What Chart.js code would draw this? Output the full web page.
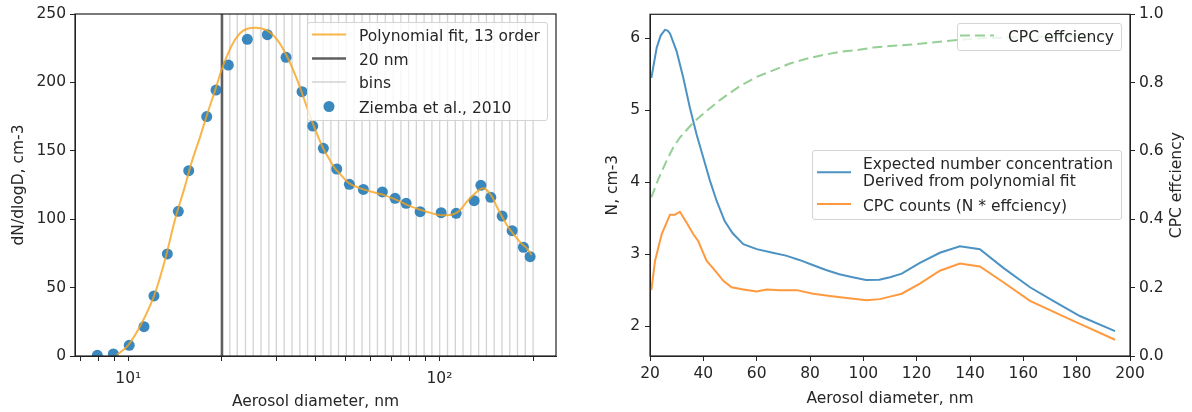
<!DOCTYPE html>
<html>
<head>
<meta charset="utf-8">
<script src="https://cdn.jsdelivr.net/npm/chart.js@4.4.0/dist/chart.umd.min.js"></script>
<style>
body { margin: 0; background: #fff; font-family: "DejaVu Sans", sans-serif; }
.wrap { position: relative; width: 1192px; height: 412px; overflow: hidden; }
canvas { position: absolute; top: 0; }
#left { left: 0; }
#right { left: 596px; }
.legend { position: absolute; background: rgba(255,255,255,0.8); border: 1px solid #d4d4d4; border-radius: 3px; box-sizing: border-box; }
.legend svg { position: absolute; left: -1px; top: -1px; }
.legend .lt { position: absolute; white-space: nowrap; font-size: 15.5px; line-height: 18px; color: #262626; }
</style>
</head>
<body>
<div class="wrap">
	<canvas id="left" width="596" height="412"></canvas>
	<canvas id="right" width="596" height="412"></canvas>
</div>
<script>
"use strict";

// ---- left panel: size distribution ----
const ziembaD = [7.95, 8.95, 10.07, 11.23, 12.09, 13.35, 14.48, 15.64, 17.87, 19.14, 20.97, 24.13, 27.99, 32.14, 36.18, 39.16, 42.36, 46.77, 51.35, 56.95, 65.55, 72.03, 78.16, 86.7, 101.3, 113.2, 129.3, 135.9, 146.3, 159.1, 171.3, 186.2, 195.7];
const ziembaN = [0.5, 1.5, 7.8, 21.4, 43.9, 74.6, 105.8, 135.5, 175, 194.4, 212.7, 231.5, 234.9, 218.3, 193.2, 168.1, 151.8, 136.7, 125.5, 121.8, 119.9, 115.3, 111.6, 105.5, 104.8, 104.3, 113.5, 124.8, 116, 102.3, 91.6, 79.5, 72.6];

const fitD = [9.18, 10, 11.04, 12.18, 13.12, 14.12, 15.2, 16, 17, 18, 19, 20, 21, 22, 23, 24, 25.7, 27.9, 30, 32.3, 34.8, 37.5, 39.8, 42.4, 44.5, 46, 48, 50.4, 52, 57, 63, 66, 73, 80.5, 91, 101.8, 108, 113.7, 118, 122.5, 127, 132, 138, 143.8, 148, 153, 158, 164.7, 171, 177.4, 184, 191, 198];
const fitN = [0.7, 8, 23.9, 45.8, 70.2, 99.4, 123.8, 142, 160, 178, 194, 210, 222, 231, 236.5, 239, 240, 238, 231.7, 219.5, 202.5, 182, 166, 151.3, 143, 137.5, 133, 127.5, 125.5, 121.8, 119, 117.8, 114, 109.6, 105.5, 102.8, 103, 104.8, 108, 112.8, 116.5, 120.1, 122.6, 120.1, 116, 109.1, 103, 95.8, 90.5, 86, 82, 78.7, 73.8];

const cutD = 20;
const binEdges = [20.0, 21.2, 22.4, 23.8, 25.2, 26.7, 28.3, 29.9, 31.7, 33.6, 35.6, 37.7, 39.9, 42.3, 44.8, 47.4, 50.2, 53.2, 56.4, 59.7, 63.2, 67.0, 71.0, 75.2, 79.6, 84.3, 89.3, 94.6, 100.2, 106.2, 112.5, 119.1, 126.2, 133.7, 141.6, 150.0, 158.9, 168.3, 178.2, 188.8, 200.0];

const leftXTicks = [7, 8, 9, 10, 20, 30, 40, 50, 60, 70, 80, 90, 100, 200];
const leftXLabels = { 10: '10\u00b9', 100: '10\u00b2' };
const leftYTicks = [0, 50, 100, 150, 200, 250];

// ---- right panel: concentration and CPC efficiency ----
const expD = [20.5, 22.5, 24, 25.6, 26.6, 27.5, 30, 32.5, 35, 37.5, 40, 42.5, 45, 48, 51, 55, 60, 66, 71, 76, 81, 86, 91, 96, 101, 106, 110, 114.4, 121.2, 128.7, 136.2, 143.7, 152.5, 162.5, 171.2, 181.2, 194.4];
const expN = [5.45, 5.87, 6.04, 6.12, 6.11, 6.07, 5.82, 5.45, 5.03, 4.66, 4.34, 4.02, 3.74, 3.46, 3.29, 3.14, 3.07, 3.02, 2.98, 2.92, 2.85, 2.78, 2.72, 2.68, 2.64, 2.645, 2.68, 2.73, 2.88, 3.02, 3.11, 3.07, 2.81, 2.54, 2.35, 2.14, 1.93];

const cpcD = [20.5, 21.9, 24.4, 27.5, 29.4, 31.2, 33.7, 36.2, 38.1, 41.2, 44.4, 47.5, 50.6, 55, 60, 63.8, 68.7, 75, 81.2, 87.5, 93.8, 101.2, 106.2, 110, 114.4, 121.2, 128.7, 136.2, 143.7, 152.5, 162.5, 171.2, 181.2, 194.4];
const cpcN = [2.50, 2.91, 3.28, 3.55, 3.55, 3.59, 3.44, 3.28, 3.18, 2.91, 2.77, 2.63, 2.54, 2.51, 2.48, 2.51, 2.50, 2.50, 2.45, 2.42, 2.39, 2.36, 2.375, 2.41, 2.45, 2.59, 2.77, 2.87, 2.83, 2.61, 2.35, 2.20, 2.03, 1.81];

const effD = [20.5, 23.1, 26.2, 28.7, 31.2, 36.2, 41.2, 46.2, 53.7, 60, 66.2, 72.5, 78.7, 85, 91.2, 97.5, 103.7, 110, 118.7, 131.2, 143.7, 160, 180, 194.4];
const effV = [0.464, 0.517, 0.571, 0.610, 0.639, 0.683, 0.717, 0.749, 0.790, 0.817, 0.836, 0.856, 0.870, 0.881, 0.890, 0.895, 0.903, 0.907, 0.912, 0.922, 0.930, 0.933, 0.938, 0.940];

const rightXTicks = [20, 40, 60, 80, 100, 120, 140, 160, 180, 200];
const rightYTicks = [2, 3, 4, 5, 6];
const effTicks = [0, 0.2, 0.4, 0.6, 0.8, 1.0];

const C = {
	dot: 'rgba(31,119,180,0.88)',
	fit: 'rgba(246,162,28,0.8)',
	cut: '#5f5f5f',
	bins: '#d3d3d3',
	blue: 'rgba(31,119,180,0.8)',
	orange: 'rgba(255,127,14,0.8)',
	green: 'rgba(44,160,44,0.5)',
	text: '#262626',
	axis: '#222'
};

Chart.defaults.font.family = '"DejaVu Sans", sans-serif';
Chart.defaults.font.size = 15.5;
Chart.defaults.color = C.text;

const pts = (xs, ys) => xs.map((x, i) => ({ x: x, y: ys[i] }));

// matplotlib-like full box around the axes
const framePlugin = {
	id: 'frame',
	afterDraw(chart) {
		const { ctx, chartArea: a } = chart;
		ctx.save();
		ctx.strokeStyle = C.axis;
		ctx.lineWidth = 1.2;
		ctx.strokeRect(a.left, a.top, a.right - a.left, a.bottom - a.top);
		ctx.restore();
	}
};

// right-hand label reads bottom-to-top like matplotlib
const sideTitlePlugin = {
	id: 'sideTitle',
	afterDraw(chart, args, opts) {
		if (!opts.text) return;
		const { ctx, chartArea: a } = chart;
		ctx.save();
		ctx.translate(opts.x, (a.top + a.bottom) / 2);
		ctx.rotate(-Math.PI / 2);
		ctx.textAlign = 'center';
		ctx.textBaseline = 'middle';
		ctx.font = '15.5px "DejaVu Sans", sans-serif';
		ctx.fillStyle = C.text;
		ctx.fillText(opts.text, 0, 0);
		ctx.restore();
	}
};

function axisStyle(extra) {
	return Object.assign({
		grid: { drawOnChartArea: false, tickLength: 5, tickColor: C.axis, tickWidth: 1 },
		border: { color: C.axis, width: 1 }
	}, extra);
}

const setTicks = (arr) => (scale) => { scale.ticks = arr.map(v => ({ value: v })); };

new Chart(document.getElementById('left'), {
	type: 'scatter',
	data: {
		datasets: [
			{
				label: 'Polynomial fit, 13 order',
				type: 'line',
				showLine: true,
				data: pts(fitD, fitN),
				borderColor: C.fit,
				borderWidth: 2,
				pointRadius: 0,
				cubicInterpolationMode: 'monotone',
				order: 0
			},
			{
				label: 'Ziemba et al., 2010',
				data: pts(ziembaD, ziembaN),
				backgroundColor: C.dot,
				borderWidth: 0,
				pointRadius: 5.5,
				order: 1
			},
			{
				label: '20 nm',
				type: 'line',
				showLine: true,
				data: [{ x: cutD, y: 0 }, { x: cutD, y: 250 }],
				borderColor: C.cut,
				borderWidth: 2.6,
				pointRadius: 0,
				order: 2
			},
			{
				label: 'bins',
				type: 'line',
				showLine: true,
				spanGaps: false,
				data: binEdges.flatMap(b => [{ x: b, y: 0 }, { x: b, y: 250 }, { x: b, y: null }]),
				borderColor: C.bins,
				borderWidth: 1.3,
				pointRadius: 0,
				order: 3
			}
		]
	},
	options: {
		responsive: false,
		animation: false,
		devicePixelRatio: 1,
		layout: { padding: { top: 14, right: 40, left: 0, bottom: 0 } },
		plugins: { legend: { display: false }, tooltip: { enabled: false } },
		scales: {
			x: axisStyle({
				type: 'logarithmic',
				min: 6.74,
				max: 237,
				afterBuildTicks: setTicks(leftXTicks),
				afterFit: (s) => { s.height = 56; },
				ticks: { autoSkip: false, maxRotation: 0, padding: 9, callback: (v) => leftXLabels[v] || '' },
				title: { display: true, text: 'Aerosol diameter, nm', padding: { top: 0, bottom: 1 } }
			}),
			y: axisStyle({
				min: 0,
				max: 250,
				afterBuildTicks: setTicks(leftYTicks),
				afterFit: (s) => { s.width = 75; },
				ticks: { padding: 4 },
				title: { display: true, text: 'dN/dlogD, cm-3', padding: { top: 10, bottom: 0 } }
			})
		}
	},
	plugins: [framePlugin]
});

new Chart(document.getElementById('right'), {
	type: 'line',
	data: {
		datasets: [
			{
				label: 'CPC effciency',
				data: pts(effD, effV),
				yAxisID: 'y1',
				borderColor: C.green,
				borderWidth: 2,
				borderDash: [10, 5],
				pointRadius: 0,
				order: 0
			},
			{
				label: 'Expected number concentration',
				data: pts(expD, expN),
				yAxisID: 'y',
				borderColor: C.blue,
				borderWidth: 2,
				pointRadius: 0,
				order: 1
			},
			{
				label: 'CPC counts (N * effciency)',
				data: pts(cpcD, cpcN),
				yAxisID: 'y',
				borderColor: C.orange,
				borderWidth: 2,
				pointRadius: 0,
				order: 2
			}
		]
	},
	options: {
		responsive: false,
		animation: false,
		devicePixelRatio: 1,
		layout: { padding: { top: 14, right: 0, left: 0, bottom: 0 } },
		plugins: {
			legend: { display: false },
			tooltip: { enabled: false },
			sideTitle: { text: 'CPC effciency', x: 581 }
		},
		scales: {
			x: axisStyle({
				type: 'linear',
				min: 20,
				max: 200,
				afterBuildTicks: setTicks(rightXTicks),
				afterFit: (s) => { s.height = 56; },
				ticks: { autoSkip: false, maxRotation: 0, padding: 4 },
				title: { display: true, text: 'Aerosol diameter, nm', padding: { top: 0, bottom: 4 } }
			}),
			y: axisStyle({
				position: 'left',
				min: 1.584,
				max: 6.336,
				afterBuildTicks: setTicks(rightYTicks),
				afterFit: (s) => { s.width = 54; },
				ticks: { padding: 5 },
				title: { display: true, text: 'N, cm-3', padding: { top: 8, bottom: 0 } }
			}),
			y1: axisStyle({
				position: 'right',
				min: 0,
				max: 1,
				afterBuildTicks: setTicks(effTicks),
				afterFit: (s) => { s.width = 62; },
				ticks: { padding: 4, callback: (v) => v.toFixed(1) }
			})
		}
	},
	plugins: [framePlugin, sideTitlePlugin]
});

// matplotlib-style legends drawn inside the axes
function makeLegend(box, rows) {
	const el = document.createElement('div');
	el.className = 'legend';
	el.style.left = box[0] + 'px';
	el.style.top = box[1] + 'px';
	el.style.width = box[2] + 'px';
	el.style.height = box[3] + 'px';
	let svg = '<svg width="' + box[2] + '" height="' + box[3] + '">';
	let html = '';
	rows.forEach((r) => {
		if (r.dot) {
			svg += '<circle cx="' + (r.sx + 17) + '" cy="' + r.sy + '" r="5.5" fill="' + r.color + '"/>';
		} else {
			svg += '<line x1="' + r.sx + '" x2="' + (r.sx + 34) + '" y1="' + r.sy + '" y2="' + r.sy +
				'" stroke="' + r.color + '" stroke-width="' + r.width + '"' +
				(r.dash ? ' stroke-dasharray="' + r.dash + '"' : '') + '/>';
		}
		r.lines.forEach((t, i) => {
			html += '<div class="lt" style="left:' + r.tx + 'px;top:' + (r.ty + i * 16.7 - 9) + 'px">' + t + '</div>';
		});
	});
	el.innerHTML = svg + '</svg>' + html;
	document.querySelector('.wrap').appendChild(el);
}

makeLegend([307, 22, 241, 99], [
	{ lines: ['Polynomial fit, 13 order'], color: C.fit, width: 2, sx: 5, sy: 12.5, tx: 51, ty: 12.5 },
	{ lines: ['20 nm'], color: C.cut, width: 2.6, sx: 5, sy: 36.5, tx: 51, ty: 36.5 },
	{ lines: ['bins'], color: C.bins, width: 1.3, sx: 5, sy: 60, tx: 51, ty: 60 },
	{ lines: ['Ziemba et al., 2010'], color: C.dot, dot: true, sx: 5, sy: 84.5, tx: 51, ty: 84.5 }
]);

makeLegend([812, 150, 310, 70], [
	{ lines: ['Expected number concentration', 'Derived from polynomial fit'], color: C.blue, width: 2, sx: 5, sy: 22.3, tx: 50, ty: 13.3 },
	{ lines: ['CPC counts (N * effciency)'], color: C.orange, width: 2, sx: 5, sy: 54, tx: 50, ty: 55 }
]);

makeLegend([957, 23, 165, 28], [
	{ lines: ['CPC effciency'], color: C.green, width: 2, dash: '10,5', sx: 3, sy: 12.5, tx: 50, ty: 12.5 }
]);
</script>
</body>
</html>
